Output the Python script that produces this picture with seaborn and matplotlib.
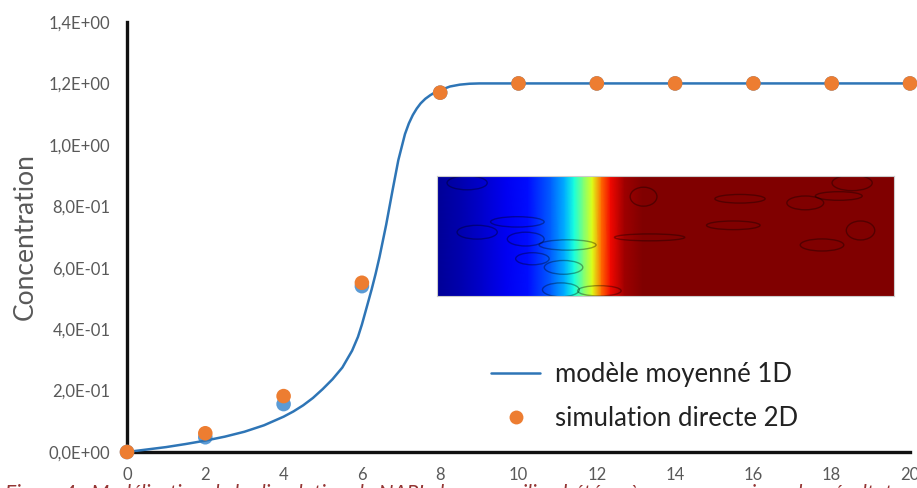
import numpy as np
import pandas as pd
import matplotlib
matplotlib.use("Agg")
import matplotlib.pyplot as plt
from matplotlib.patches import Ellipse
from matplotlib.lines import Line2D
import seaborn as sns

# ---- data ----
model_x = [0, 0.5, 1, 1.5, 2, 2.5, 3, 3.5, 4, 4.25, 4.5, 4.75, 5, 5.25, 5.5, 5.75, 5.9, 6.0,
           6.12, 6.25, 6.35, 6.45, 6.62, 6.78, 6.93, 7.02, 7.1, 7.2, 7.3, 7.4, 7.5, 7.62,
           7.75, 7.87, 8.0, 8.25, 8.5, 8.75, 9, 10, 12, 14, 16, 18, 20]
model_y = [0, 0.008, 0.016, 0.026, 0.037, 0.05, 0.066, 0.087, 0.115, 0.132, 0.152, 0.176,
           0.205, 0.237, 0.275, 0.33, 0.375, 0.415, 0.47, 0.53, 0.58, 0.635, 0.74, 0.85,
           0.95, 0.995, 1.035, 1.07, 1.097, 1.118, 1.135, 1.15, 1.162, 1.171, 1.178, 1.19,
           1.196, 1.199, 1.2, 1.2, 1.2, 1.2, 1.2, 1.2, 1.2]

sim_x = [0, 2, 4, 6, 8, 10, 12, 14, 16, 18, 20]
sim_orange = [0, 0.061, 0.182, 0.551, 1.17, 1.2, 1.2, 1.2, 1.2, 1.2, 1.2]
sim_blue = [0, 0.048, 0.156, 0.54, 1.17, 1.2, 1.2, 1.2, 1.2, 1.2, 1.2]

x_ticks = [0, 2, 4, 6, 8, 10, 12, 14, 16, 18, 20]
y_ticks = [0, 0.2, 0.4, 0.6, 0.8, 1.0, 1.2, 1.4]
y_tick_labels = ["0,0E+00", "2,0E-01", "4,0E-01", "6,0E-01", "8,0E-01",
                 "1,0E+00", "1,2E+00", "1,4E+00"]

legend_labels = ["modèle moyenné 1D", "simulation directe 2D"]
y_label = "Concentration"
caption = ("Figure 4 : Modélisation de la dissolution de NAPL dans un milieu hétérogène : "
           "comparaison des résultats")

# inset field profile (fraction of width -> normalized concentration)
field_pos = [0.0, 0.05, 0.10, 0.15, 0.20, 0.25, 0.28, 0.30, 0.32, 0.34, 0.36, 0.38, 0.41, 0.45, 1.0]
field_val = [0.02, 0.04, 0.07, 0.10, 0.14, 0.22, 0.30, 0.38, 0.50, 0.62, 0.80, 0.90, 0.97, 1.0, 1.0]

# inset inclusions (pixel coords within a 1365 x 348 image): cx, cy, w, h
ell_cx = [90, 240, 120, 265, 390, 285, 378, 370, 485, 617, 635, 905, 885, 1100, 1200, 1240, 1265, 1150]
ell_cy = [20, 133, 163, 183, 200, 240, 265, 330, 333, 60, 178, 66, 143, 78, 58, 20, 158, 200]
ell_w = [120, 160, 120, 110, 170, 100, 115, 110, 130, 80, 210, 150, 160, 110, 140, 120, 85, 130]
ell_h = [40, 30, 40, 40, 30, 35, 40, 40, 30, 55, 20, 25, 25, 40, 25, 45, 55, 35]

# ---- style ----
sns.set_style("white")
plt.rcParams["font.family"] = ["Lato", "DejaVu Sans"]

grey = "#595959"
line_blue = "#2E75B6"
pt_blue = "#5B9BD5"
orange = "#ED7D31"

fig = plt.figure(figsize=(9.17, 4.88), dpi=100)
ax = fig.add_axes([127 / 917, 1 - 452 / 488, (910 - 127) / 917, (452 - 22) / 488])

df_model = pd.DataFrame({"x": model_x, "y": model_y})
df_blue = pd.DataFrame({"x": sim_x, "y": sim_blue})
df_orange = pd.DataFrame({"x": sim_x, "y": sim_orange})

sns.scatterplot(data=df_blue, x="x", y="y", ax=ax, color=pt_blue, s=110,
                edgecolor="none", zorder=3, clip_on=False, legend=False)
sns.lineplot(data=df_model, x="x", y="y", ax=ax, color=line_blue, linewidth=1.8,
             zorder=4, legend=False)
sns.scatterplot(data=df_orange, x="x", y="y", ax=ax, color=orange, s=110,
                edgecolor="none", zorder=5, clip_on=False, legend=False)

ax.set_xlim(0, 20)
ax.set_ylim(0, 1.4)
ax.set_xticks(x_ticks)
ax.set_xticklabels([str(t) for t in x_ticks])
ax.set_yticks(y_ticks)
ax.set_yticklabels(y_tick_labels)
ax.tick_params(axis="both", length=0, labelsize=12, labelcolor=grey)
ax.tick_params(axis="x", pad=11)
ax.tick_params(axis="y", pad=12)
ax.set_xlabel("")
ax.set_ylabel(y_label, fontsize=19, color=grey, labelpad=8)
ax.grid(False)
for s in ["top", "right"]:
    ax.spines[s].set_visible(False)
for s in ["left", "bottom"]:
    ax.spines[s].set_color("#111111")
    ax.spines[s].set_linewidth(2.4)

handles = [Line2D([0], [0], color=line_blue, lw=1.8),
           Line2D([0], [0], marker="o", color="none", markerfacecolor=orange,
                  markeredgecolor="none", markersize=10)]
fig.legend(handles, legend_labels, loc="upper left",
           bbox_to_anchor=(468 / 917, 1 - 339 / 488), frameon=False,
           fontsize=18.5, handlelength=1.9, handletextpad=0.6, labelspacing=0.72,
           labelcolor="#222222")

# ---- inset image ----
iax = fig.add_axes([437 / 917, 1 - 296 / 488, 457 / 917, 120 / 488])
X = np.array([[p * 1365 for p in field_pos], [p * 1365 for p in field_pos]])
Y = np.array([[0] * len(field_pos), [348] * len(field_pos)])
C = np.array([field_val, field_val])
iax.pcolormesh(X, Y, C, cmap="jet", vmin=0, vmax=1, shading="gouraud")
for cx, cy, w, h in zip(ell_cx, ell_cy, ell_w, ell_h):
    iax.add_patch(Ellipse((cx, cy), w, h, fill=False, edgecolor="black",
                          alpha=0.35, linewidth=1.0))
iax.set_xlim(0, 1365)
iax.set_ylim(348, 0)
iax.set_xticks([])
iax.set_yticks([])
for s in iax.spines.values():
    s.set_color("#cccccc")
    s.set_linewidth(0.8)

# ---- caption (cut off at bottom, as in the source) ----
fig.text(0.005, 1 - 484 / 488, caption, color="#943634", fontsize=15, style="italic",
         ha="left", va="top")

fig.savefig("out.png", dpi=100)
